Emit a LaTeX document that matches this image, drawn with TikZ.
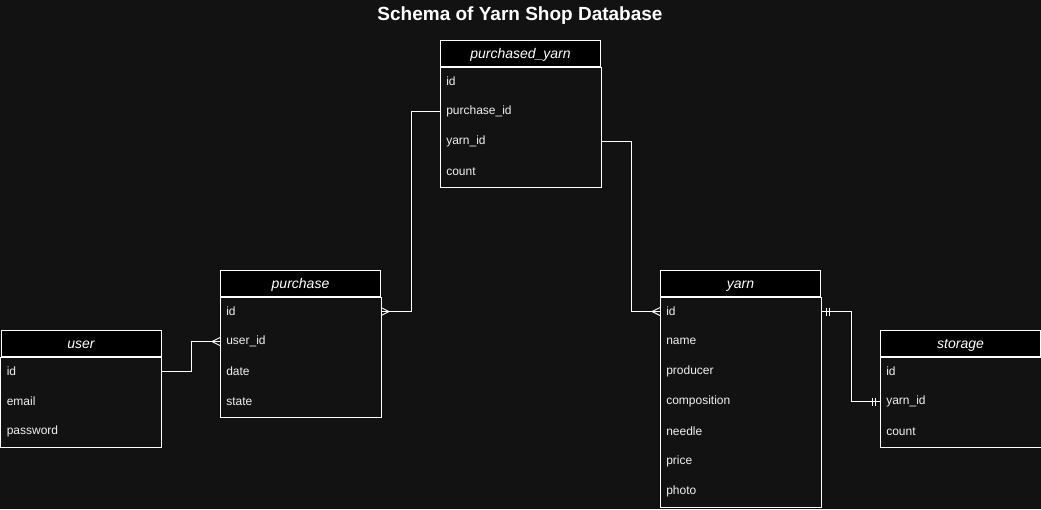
\documentclass[tikz,border=0pt]{standalone}
\usepackage{fontspec}
\setmainfont{Liberation Sans}
\definecolor{bg}{RGB}{18,18,18}
\definecolor{txt}{RGB}{240,240,240}
\begin{document}
\begin{tikzpicture}[x=1pt,y=-1pt,line width=1pt,
 hdr/.style={draw=white,fill=black,minimum width=160pt,minimum height=26pt,inner sep=0pt,text height=10pt,text depth=0pt,anchor=north west,font=\fontsize{14}{16}\selectfont\itshape,text=white},
 row/.style={minimum width=160pt,minimum height=30pt,text width=148.5pt,inner xsep=5.5pt,inner ysep=0pt,anchor=north west,font=\fontsize{12}{14}\selectfont,text=txt,align=left},
 tbox/.style={draw=white},
 conn/.style={draw=white,line width=1pt},
 endmark/.style={draw=white,line width=0.9pt}]
\fill[bg] (0,0) rectangle (1041,509);
\useasboundingbox (0,0) rectangle (1041,509);
\node[font=\fontsize{19}{22}\selectfont\bfseries,text=white] (title) at (520,16) {Schema of Yarn Shop Database};
% purchased_yarn
\node[hdr] (pyh) at (440,40) {purchased\_yarn};
\node[row] (pyid) at (440,66) {id};
\node[row] (pypid) at (440,96) {purchase\_id};
\node[row] (pyyid) at (440,126) {yarn\_id};
\node[row] (pycount) at (440,156) {count};
\draw[tbox] (pyh.south west) rectangle (pycount.south east);
% purchase
\node[hdr] (ph) at (220,270) {purchase};
\node[row] (pid) at (220,296) {id};
\node[row] (puid) at (220,326) {user\_id};
\node[row] (pdate) at (220,356) {date};
\node[row] (pstate) at (220,386) {state};
\draw[tbox] (ph.south west) rectangle (pstate.south east);
% user
\node[hdr] (uh) at (0.5,330) {user};
\node[row] (uid) at (0.5,356) {id};
\node[row] (uemail) at (0.5,386) {email};
\node[row] (upass) at (0.5,416) {password};
\draw[tbox] (uh.south west) rectangle (upass.south east);
% yarn
\node[hdr] (yh) at (660,270) {yarn};
\node[row] (yid) at (660,296) {id};
\node[row] (yname) at (660,326) {name};
\node[row] (yprod) at (660,356) {producer};
\node[row] (ycomp) at (660,386) {composition};
\node[row] (yneedle) at (660,416) {needle};
\node[row] (yprice) at (660,446) {price};
\node[row] (yphoto) at (660,476) {photo};
\draw[tbox] (yh.south west) rectangle (yphoto.south east);
% storage
\node[hdr] (sh) at (880,330) {storage};
\node[row] (sid) at (880,356) {id};
\node[row] (syid) at (880,386) {yarn\_id};
\node[row] (scount) at (880,416) {count};
\draw[tbox] (sh.south west) rectangle (scount.south east);
% connectors
\draw[conn] (uid.east) -- ++(30,0) |- (puid.west);
\draw[endmark] (puid.west) ++(-8,0) -- ++(8,-4);
\draw[endmark] (puid.west) ++(-8,0) -- ++(8,4);
\draw[conn] (pid.east) -- ++(30,0) |- (pypid.west);
\draw[endmark] (pid.east) ++(8,0) -- ++(-8,-4);
\draw[endmark] (pid.east) ++(8,0) -- ++(-8,4);
\draw[conn] (pyyid.east) -- ++(30,0) |- (yid.west);
\draw[endmark] (yid.west) ++(-8,0) -- ++(8,-4);
\draw[endmark] (yid.west) ++(-8,0) -- ++(8,4);
\draw[conn] (yid.east) -- ++(30,0) |- (syid.west);
\draw[endmark] (yid.east) ++(5,-4) -- ++(0,8);
\draw[endmark] (yid.east) ++(8,-4) -- ++(0,8);
\draw[endmark] (syid.west) ++(-5,-4) -- ++(0,8);
\draw[endmark] (syid.west) ++(-8,-4) -- ++(0,8);
\end{tikzpicture}
\end{document}
